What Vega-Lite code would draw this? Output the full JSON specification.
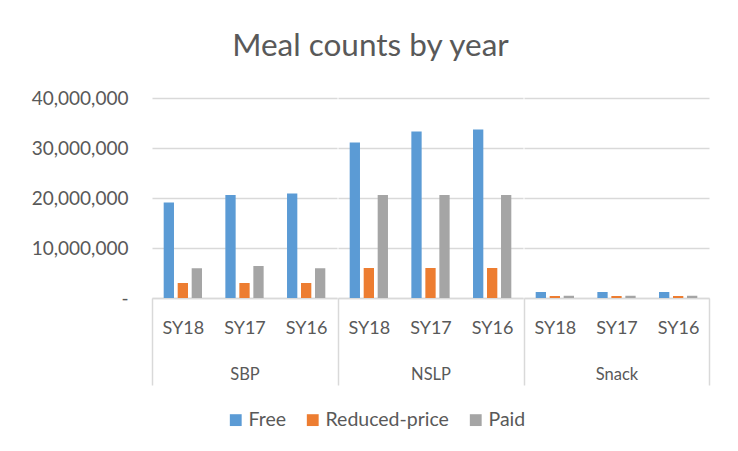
{
  "$schema": "https://vega.github.io/schema/vega-lite/v6.json",
  "background": "white",
  "padding": {"left": 31, "top": 30, "right": 25, "bottom": 5},
  "title": {"text": "Meal counts by year", "fontSize": 31.5, "font": "Lato", "fontWeight": "normal", "color": "#595959", "anchor": "middle", "offset": 27},
  "datasets": {
    "meals": [
      {"program": "SBP", "year": "SY18", "type": "Free", "value": 19100000},
      {"program": "SBP", "year": "SY18", "type": "Reduced-price", "value": 3000000},
      {"program": "SBP", "year": "SY18", "type": "Paid", "value": 5950000},
      {"program": "SBP", "year": "SY17", "type": "Free", "value": 20600000},
      {"program": "SBP", "year": "SY17", "type": "Reduced-price", "value": 3000000},
      {"program": "SBP", "year": "SY17", "type": "Paid", "value": 6400000},
      {"program": "SBP", "year": "SY16", "type": "Free", "value": 20900000},
      {"program": "SBP", "year": "SY16", "type": "Reduced-price", "value": 3000000},
      {"program": "SBP", "year": "SY16", "type": "Paid", "value": 5950000},
      {"program": "NSLP", "year": "SY18", "type": "Free", "value": 31100000},
      {"program": "NSLP", "year": "SY18", "type": "Reduced-price", "value": 6000000},
      {"program": "NSLP", "year": "SY18", "type": "Paid", "value": 20600000},
      {"program": "NSLP", "year": "SY17", "type": "Free", "value": 33300000},
      {"program": "NSLP", "year": "SY17", "type": "Reduced-price", "value": 6000000},
      {"program": "NSLP", "year": "SY17", "type": "Paid", "value": 20600000},
      {"program": "NSLP", "year": "SY16", "type": "Free", "value": 33700000},
      {"program": "NSLP", "year": "SY16", "type": "Reduced-price", "value": 6000000},
      {"program": "NSLP", "year": "SY16", "type": "Paid", "value": 20600000},
      {"program": "Snack", "year": "SY18", "type": "Free", "value": 1200000},
      {"program": "Snack", "year": "SY18", "type": "Reduced-price", "value": 400000},
      {"program": "Snack", "year": "SY18", "type": "Paid", "value": 450000},
      {"program": "Snack", "year": "SY17", "type": "Free", "value": 1200000},
      {"program": "Snack", "year": "SY17", "type": "Reduced-price", "value": 400000},
      {"program": "Snack", "year": "SY17", "type": "Paid", "value": 450000},
      {"program": "Snack", "year": "SY16", "type": "Free", "value": 1200000},
      {"program": "Snack", "year": "SY16", "type": "Reduced-price", "value": 400000},
      {"program": "Snack", "year": "SY16", "type": "Paid", "value": 450000}
    ]
  },
  "data": {"name": "meals"},
  "spacing": 0,
  "hconcat": [
    {
      "width": 185, "height": 200,
      "transform": [{"filter": "datum.program == 'SBP'"}],
      "mark": {"type": "bar"},
      "encoding": {
        "x": {"field": "year", "type": "nominal", "sort": ["SY18", "SY17", "SY16"], "scale": {"paddingInner": 0, "paddingOuter": 0},
          "axis": {"title": "SBP", "tickBand": "extent", "ticks": true, "tickSize": 87, "tickColor": "#d9d9d9", "tickWidth": 1.5,
            "tickOpacity": {"condition": {"test": "datum.extra", "value": 1}, "value": 0},
            "labelPadding": -66, "labelAngle": 0, "domainColor": "#d9d9d9", "domainWidth": 1.5, "titlePadding": -19, "grid": false}},
        "xOffset": {"field": "type", "sort": ["Free", "Reduced-price", "Paid"], "scale": {"paddingInner": 0.264, "paddingOuter": 0.835}},
        "y": {"field": "value", "type": "quantitative", "scale": {"domain": [0, 40000000]},
          "axis": {"values": [0, 10000000, 20000000, 30000000, 40000000], "labelExpr": "datum.value == 0 ? '-  ' : format(datum.value, ',')", "title": null, "domain": false, "ticks": false, "tickSize": 0, "labelPadding": 24, "labelFontSize": 19, "grid": true}},
        "color": {"field": "type", "type": "nominal", "sort": ["Free", "Reduced-price", "Paid"],
          "scale": {"domain": ["Free", "Reduced-price", "Paid"], "range": ["#5B9BD5", "#ED7D31", "#A5A5A5"]},
          "legend": {"title": null, "orient": "none", "direction": "horizontal", "legendX": 74, "legendY": 312}}
      }
    },
    {
      "width": 185, "height": 200,
      "transform": [{"filter": "datum.program == 'NSLP'"}],
      "mark": {"type": "bar"},
      "encoding": {
        "x": {"field": "year", "type": "nominal", "sort": ["SY18", "SY17", "SY16"], "scale": {"paddingInner": 0, "paddingOuter": 0},
          "axis": {"title": "NSLP", "tickBand": "extent", "ticks": true, "tickSize": 87, "tickColor": "#d9d9d9", "tickWidth": 1.5,
            "tickOpacity": {"condition": {"test": "datum.extra", "value": 1}, "value": 0},
            "labelPadding": -66, "labelAngle": 0, "domainColor": "#d9d9d9", "domainWidth": 1.5, "titlePadding": -19, "grid": false}},
        "xOffset": {"field": "type", "sort": ["Free", "Reduced-price", "Paid"], "scale": {"paddingInner": 0.264, "paddingOuter": 0.835}},
        "y": {"field": "value", "type": "quantitative", "scale": {"domain": [0, 40000000]},
          "axis": {"values": [0, 10000000, 20000000, 30000000, 40000000], "labels": false, "title": null, "domain": false, "ticks": false, "tickSize": 0, "grid": true}},
        "color": {"field": "type", "type": "nominal", "sort": ["Free", "Reduced-price", "Paid"],
          "scale": {"domain": ["Free", "Reduced-price", "Paid"], "range": ["#5B9BD5", "#ED7D31", "#A5A5A5"]},
          "legend": {"title": null, "orient": "none", "direction": "horizontal", "legendX": 74, "legendY": 312}}
      }
    },
    {
      "width": 185, "height": 200,
      "transform": [{"filter": "datum.program == 'Snack'"}],
      "mark": {"type": "bar"},
      "encoding": {
        "x": {"field": "year", "type": "nominal", "sort": ["SY18", "SY17", "SY16"], "scale": {"paddingInner": 0, "paddingOuter": 0},
          "axis": {"title": "Snack", "tickBand": "extent", "ticks": true, "tickSize": 87, "tickColor": "#d9d9d9", "tickWidth": 1.5,
            "tickOpacity": {"condition": {"test": "datum.extra || datum.value === 'SY16'", "value": 1}, "value": 0},
            "labelPadding": -66, "labelAngle": 0, "domainColor": "#d9d9d9", "domainWidth": 1.5, "titlePadding": -19, "grid": false}},
        "xOffset": {"field": "type", "sort": ["Free", "Reduced-price", "Paid"], "scale": {"paddingInner": 0.264, "paddingOuter": 0.835}},
        "y": {"field": "value", "type": "quantitative", "scale": {"domain": [0, 40000000]},
          "axis": {"values": [0, 10000000, 20000000, 30000000, 40000000], "labels": false, "title": null, "domain": false, "ticks": false, "tickSize": 0, "grid": true}},
        "color": {"field": "type", "type": "nominal", "sort": ["Free", "Reduced-price", "Paid"],
          "scale": {"domain": ["Free", "Reduced-price", "Paid"], "range": ["#5B9BD5", "#ED7D31", "#A5A5A5"]},
          "legend": {"title": null, "orient": "none", "direction": "horizontal", "legendX": 74, "legendY": 312}}
      }
    }
  ],
  "resolve": {"scale": {"x": "independent", "y": "independent"}, "axis": {"x": "independent", "y": "independent"}},
  "config": {
    "view": {"stroke": null},
    "font": "Lato",
    "axis": {"labelFont": "Lato", "labelColor": "#595959", "labelFontSize": 18, "titleFont": "Lato", "titleColor": "#595959", "titleFontSize": 16.5, "titleFontWeight": "normal", "gridColor": "#d9d9d9", "gridWidth": 1.5},
    "legend": {"labelFont": "Lato", "labelColor": "#595959", "labelFontSize": 19.5, "symbolType": "square", "symbolSize": 140, "symbolStrokeWidth": 0, "labelOffset": 3, "columnPadding": 17}
  }
}
